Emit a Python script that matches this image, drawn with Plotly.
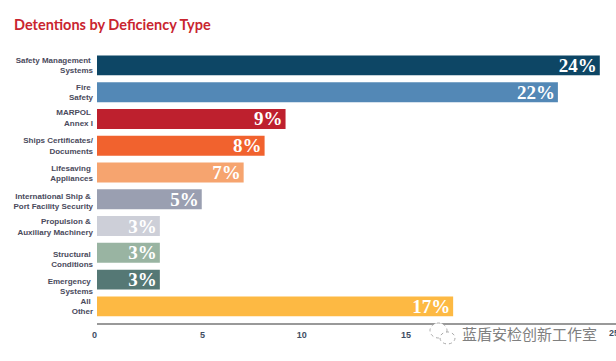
import plotly.graph_objects as go

categories = ["Safety Management <br>Systems", "Fire <br>Safety", "MARPOL <br>Annex I",
              "Ships Certificates/<br>Documents", "Lifesaving <br>Appliances",
              "International Ship & <br>Port Facility Security", "Propulsion & <br>Auxiliary Machinery",
              "Structural <br>Conditions", "Emergency <br>Systems", "All <br>Other"]
values = [24, 22, 9, 8, 7, 5, 3, 3, 3, 17]
labels = ["24%", "22%", "9%", "8%", "7%", "5%", "3%", "3%", "3%", "17%"]
colors = ["#0D4665", "#5388B6", "#BE202E", "#F1622E", "#F6A46F", "#9A9FB1",
          "#CDCFD8", "#99B4A2", "#557875", "#FDB943"]
x_tick_text = ["0&#160;&#160;", "5", "10", "15"]
title = "Detentions by Deficiency Type"
watermark = "蓝盾安检创新工作室"

W, H = 616, 361
L, R, T, B = 97, 616, 51.5, 323

fig = go.Figure(go.Bar(
    y=categories, x=values, orientation="h",
    marker=dict(color=colors, line_width=0),
    text=labels, textposition="inside", insidetextanchor="end", textangle=0,
    constraintext="none",
    textfont=dict(family="Liberation Serif", size=19, color="white", weight="bold"),
    width=0.745, cliponaxis=False, hoverinfo="skip",
))
fig.update_layout(
    width=W, height=H, autosize=False, showlegend=False,
    paper_bgcolor="white", plot_bgcolor="white",
    margin=dict(l=L, r=W - R, t=T, b=H - B, pad=0),
    font=dict(family="Liberation Sans"),
    title=dict(text="<b>" + title + "</b>", x=14 / W, xanchor="left", y=1 - 25 / H, yanchor="middle",
               font=dict(family="Lato", size=14.5, color="#C9252F")),
)
# the reference's axis labels sit slightly off the bars' scale
fig.update_xaxes(range=[0, (R - L) / 20.95], tickvals=[0, 5.04, 9.77, 14.75], ticktext=x_tick_text,
                 showgrid=False, zeroline=False,
                 showline=True, linecolor="#999999", linewidth=1.5, ticks="",
                 tickfont=dict(family="Liberation Sans", size=9, color="#3F4E63", weight="bold"),
                 ticklabelstandoff=2)
fig.update_yaxes(type="category", categoryorder="array", categoryarray=categories,
                 range=[9.62, -0.5], showgrid=False, zeroline=False, showline=False, ticks="",
                 tickvals=[0, 1, 1.96, 3, 4.03, 5.07, 6.03, 7.24, 8.24, 9], ticktext=categories,
                 tickfont=dict(family="Liberation Sans", size=8, color="#4A4A5C", weight="bold"),
                 ticklabelstandoff=3)
def px(x): return (x - L) / (R - L)
def py(y): return (B - y) / (B - T)
# last axis label, cut by the right edge as in the reference
fig.add_annotation(text="<b>25</b>", xref="paper", yref="paper", x=px(614), y=py(333),
                   xanchor="center", yanchor="middle", showarrow=False,
                   font=dict(family="Liberation Sans", size=9, color="#3F4E63"))
fig.add_annotation(text=watermark, xref="paper", yref="paper", x=px(529.5), y=py(334),
                   xanchor="center", yanchor="middle", showarrow=False,
                   font=dict(family="Noto Sans CJK SC", size=15, color="#808080"))
for x0, y0, x1, y1 in [(430, 323, 447, 338), (440, 332, 455, 344)]:
    fig.add_shape(type="circle", xref="paper", yref="paper", x0=px(x0), x1=px(x1), y0=py(y1), y1=py(y0),
                  line=dict(color="#A8A8A8", width=1, dash="dot"), fillcolor="white", layer="above")
fig.write_html("out.html", config={"displayModeBar": False},
               post_script="document.body.style.margin='0';document.documentElement.style.overflow='hidden';")
